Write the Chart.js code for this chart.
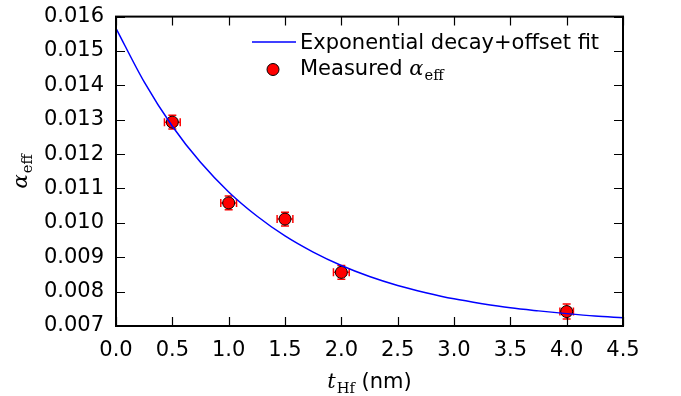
<!DOCTYPE html>
<html>
<head>
<meta charset="utf-8">
<script src="https://cdn.jsdelivr.net/npm/chart.js@4/dist/chart.umd.min.js"></script>
<style>
  html, body { margin: 0; padding: 0; background: #fff; }
  #wrap { width: 681px; height: 396px; }
</style>
</head>
<body>
<div id="wrap"><canvas id="chart" width="681" height="396"></canvas></div>
<script>
// Measured points
const thickness = [0.5, 1.0, 1.5, 2.0, 4.0];
const alphaEff = [0.01293, 0.01058, 0.01011, 0.00856, 0.00742];
const thicknessErr = [0.07, 0.07, 0.07, 0.07, 0.06];
const alphaErr = [0.0002, 0.0002, 0.0002, 0.0002, 0.00022];

// Fit curve, every 0.25 nm
const fitX = [0, 0.25, 0.5, 0.75, 1.0, 1.25, 1.5, 1.75, 2.0, 2.25, 2.5, 2.75, 3.0, 3.25, 3.5, 3.75, 4.0, 4.25, 4.5];
const fitY = [0.01566, 0.01410, 0.01281, 0.01176, 0.01090, 0.01020, 0.00962, 0.00915, 0.00876, 0.00844,
              0.00818, 0.00797, 0.00779, 0.00765, 0.00753, 0.00744, 0.00736, 0.00729, 0.00724];

const xTicks = [0, 0.5, 1.0, 1.5, 2.0, 2.5, 3.0, 3.5, 4.0, 4.5];
const yTicks = [0.007, 0.008, 0.009, 0.010, 0.011, 0.012, 0.013, 0.014, 0.015, 0.016];

const SANS = '"DejaVu Sans", sans-serif';
const SERIF = '"DejaVu Serif", serif';
const FS = 21;

// draws text with a subscript, italic/upright mix like matplotlib mathtext
function mathText(ctx, x, y, base, sub, size, baseFont, rest) {
    ctx.font = baseFont;
    ctx.fillText(base, x, y);
    let w = ctx.measureText(base).width;
    ctx.font = (size * 0.7) + 'px ' + SERIF;
    ctx.fillText(sub, x + w + 1, y + size * 0.22);
    w += 1 + ctx.measureText(sub).width;
    if (rest) {
        ctx.font = size + 'px ' + SANS;
        ctx.fillText(rest, x + w, y);
        w += ctx.measureText(rest).width;
    }
    return w;
}

function mathWidth(ctx, base, sub, size, baseFont, rest) {
    ctx.font = baseFont;
    let w = ctx.measureText(base).width;
    ctx.font = (size * 0.7) + 'px ' + SERIF;
    w += 1 + ctx.measureText(sub).width;
    if (rest) {
        ctx.font = size + 'px ' + SANS;
        w += ctx.measureText(rest).width;
    }
    return w;
}

const errorBars = {
    id: 'errorBars',
    beforeDatasetsDraw(chart) {
        const ctx = chart.ctx;
        const xs = chart.scales.x, ys = chart.scales.y;
        ctx.save();
        ctx.strokeStyle = '#ff0000';
        ctx.lineWidth = 1.5;
        thickness.forEach((t, i) => {
            const px = xs.getPixelForValue(t), py = ys.getPixelForValue(alphaEff[i]);
            const x0 = xs.getPixelForValue(t - thicknessErr[i]), x1 = xs.getPixelForValue(t + thicknessErr[i]);
            const y0 = ys.getPixelForValue(alphaEff[i] - alphaErr[i]), y1 = ys.getPixelForValue(alphaEff[i] + alphaErr[i]);
            const c = 4;
            ctx.beginPath();
            ctx.moveTo(x0, py); ctx.lineTo(x1, py);
            ctx.moveTo(px, y0); ctx.lineTo(px, y1);
            ctx.moveTo(x0, py - c); ctx.lineTo(x0, py + c);
            ctx.moveTo(x1, py - c); ctx.lineTo(x1, py + c);
            ctx.moveTo(px - c, y0); ctx.lineTo(px + c, y0);
            ctx.moveTo(px - c, y1); ctx.lineTo(px + c, y1);
            ctx.stroke();
        });
        ctx.restore();
    }
};

const frameAndText = {
    id: 'frameAndText',
    afterDraw(chart) {
        const ctx = chart.ctx;
        const a = chart.chartArea;
        const xs = chart.scales.x, ys = chart.scales.y;
        ctx.save();
        // inward ticks on all four sides
        ctx.strokeStyle = '#000';
        ctx.lineWidth = 1.2;
        const tl = 9;
        ctx.beginPath();
        xTicks.forEach(v => {
            const p = Math.round(xs.getPixelForValue(v)) + 0.5;
            ctx.moveTo(p, a.bottom); ctx.lineTo(p, a.bottom - tl);
            ctx.moveTo(p, a.top); ctx.lineTo(p, a.top + tl);
        });
        yTicks.forEach(v => {
            const p = Math.round(ys.getPixelForValue(v)) + 0.5;
            ctx.moveTo(a.left, p); ctx.lineTo(a.left + tl, p);
            ctx.moveTo(a.right, p); ctx.lineTo(a.right - tl, p);
        });
        ctx.stroke();
        // frame
        ctx.lineWidth = 2;
        ctx.strokeRect(a.left, a.top, a.right - a.left, a.bottom - a.top);

        ctx.fillStyle = '#000';
        ctx.textBaseline = 'alphabetic';
        ctx.textAlign = 'left';

        // x title
        const xf = 'italic ' + FS + 'px ' + SERIF;
        const xw = mathWidth(ctx, 't', 'Hf', FS, xf, ' (nm)');
        mathText(ctx, (a.left + a.right) / 2 - xw / 2, 388, 't', 'Hf', FS, xf, ' (nm)');

        // y title (rotated)
        ctx.save();
        ctx.translate(27, (a.top + a.bottom) / 2);
        ctx.rotate(-Math.PI / 2);
        const yw = mathWidth(ctx, 'α', 'eff', FS, xf);
        mathText(ctx, -yw / 2, 0, 'α', 'eff', FS, xf);
        ctx.restore();

        // legend
        ctx.strokeStyle = '#0000ff';
        ctx.lineWidth = 1.5;
        ctx.beginPath();
        ctx.moveTo(252, 42); ctx.lineTo(296, 42);
        ctx.stroke();
        ctx.font = FS + 'px ' + SANS;
        ctx.fillText('Exponential decay+offset fit', 300, 49);
        ctx.beginPath();
        ctx.arc(273, 69.5, 6, 0, Math.PI * 2);
        ctx.fillStyle = '#ff0000';
        ctx.fill();
        ctx.strokeStyle = '#000';
        ctx.lineWidth = 1;
        ctx.stroke();
        ctx.fillStyle = '#000';
        ctx.font = FS + 'px ' + SANS;
        ctx.fillText('Measured ', 300, 75);
        const mw = ctx.measureText('Measured ').width;
        mathText(ctx, 300 + mw, 75, 'α', 'eff', FS, 'italic ' + FS + 'px ' + SERIF);
        ctx.restore();
    }
};

new Chart(document.getElementById('chart'), {
    type: 'scatter',
    data: {
        datasets: [
            {
                label: 'Exponential decay+offset fit',
                data: fitX.map((x, i) => ({ x: x, y: fitY[i] })),
                showLine: true,
                cubicInterpolationMode: 'monotone',
                borderColor: '#0000ff',
                borderWidth: 1.5,
                pointRadius: 0,
                fill: false
            },
            {
                label: 'Measured',
                data: thickness.map((x, i) => ({ x: x, y: alphaEff[i] })),
                pointRadius: 6,
                pointBackgroundColor: '#ff0000',
                pointBorderColor: '#000',
                pointBorderWidth: 1
            }
        ]
    },
    options: {
        responsive: false,
        animation: false,
        layout: { padding: { top: 14, right: 58, left: 0, bottom: 0 } },
        plugins: { legend: { display: false }, tooltip: { enabled: false } },
        scales: {
            x: {
                type: 'linear',
                min: 0, max: 4.5,
                afterBuildTicks: s => { s.ticks = xTicks.map(v => ({ value: v })); },
                afterFit: s => { s.height = 70; },
                grid: { display: false },
                border: { display: false },
                ticks: {
                    color: '#000',
                    font: { family: SANS, size: FS },
                    padding: 4,
                    maxRotation: 0,
                    callback: v => v.toFixed(1)
                }
            },
            y: {
                type: 'linear',
                min: 0.007, max: 0.016,
                afterBuildTicks: s => { s.ticks = yTicks.map(v => ({ value: v })); },
                afterFit: s => { s.width = 116; },
                grid: { display: false },
                border: { display: false },
                ticks: {
                    color: '#000',
                    font: { family: SANS, size: FS },
                    padding: 4,
                    callback: v => v.toFixed(3)
                }
            }
        }
    },
    plugins: [errorBars, frameAndText]
});
</script>
</body>
</html>
